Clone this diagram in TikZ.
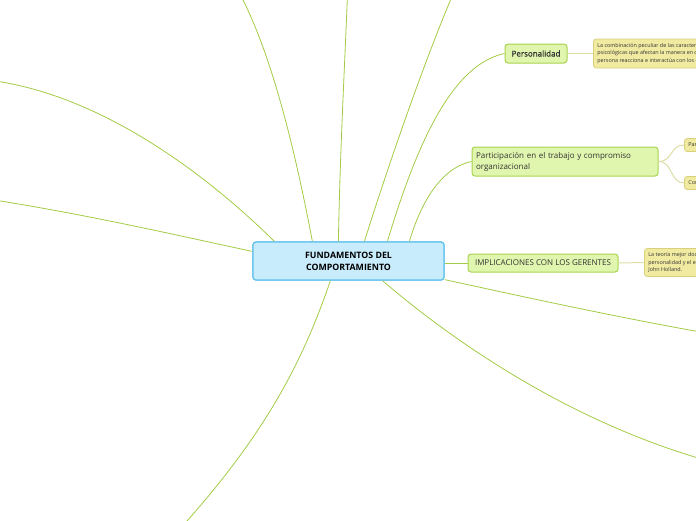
\documentclass[tikz,border=0pt]{standalone}
\usepackage{fontspec}
\setmainfont{Open Sans}
\newfontfamily\semifont{Open Sans}[FakeBold=0.6]
\definecolor{linkgreen}{HTML}{A3CB45}
\definecolor{notelink}{HTML}{DCDDA6}
\definecolor{cfill}{HTML}{C8ECFC}
\definecolor{cdraw}{HTML}{62C2EC}
\definecolor{tfill}{HTML}{E0F5AE}
\definecolor{tdraw}{HTML}{A8D34E}
\definecolor{nfill}{HTML}{F1EBA2}
\definecolor{ndraw}{HTML}{D8D07C}
\definecolor{tdark}{HTML}{333333}
\begin{document}
\begin{tikzpicture}[x=1pt,y=-1pt,
  conn/.style={draw=linkgreen, line width=0.8pt},
  nconn/.style={draw=notelink, line width=1pt},
  central/.style={rectangle, rounded corners=3pt, fill=cfill, draw=cdraw, line width=1.2pt,
    minimum width=191pt, minimum height=38pt, inner sep=0pt, align=center,
    font=\bfseries\fontsize{8.8}{12}\selectfont, text=black},
  topic/.style={rectangle, rounded corners=3pt, fill=tfill, draw=tdraw, line width=1pt,
    inner sep=0pt, font=\fontsize{8}{11}\selectfont, text=tdark},
  note/.style={rectangle, rounded corners=3pt, fill=nfill, draw=ndraw, line width=0.8pt,
    align=left, font=\fontsize{5.4}{7.8}\selectfont, inner xsep=4pt, inner ysep=3pt,
    anchor=west, text=tdark}]
\useasboundingbox (0,0) rectangle (696,520);
\begin{scope}
\clip (0,0) rectangle (696,520);
% nodes
\node[central] (c) at (348.5,261) {FUNDAMENTOS DEL\\COMPORTAMIENTO};
\node[topic, minimum width=62pt, minimum height=19pt, font=\semifont\fontsize{8}{11}\selectfont] (p) at (536,53.5) {Personalidad};
\node[topic, minimum width=186pt, minimum height=29pt, align=left, text width=178pt,
  font=\fontsize{8}{11}\selectfont] (pp) at (565,161.5) {Participación en el trabajo y compromiso\\organizacional};
\node[topic, minimum width=150pt, minimum height=18pt] (i) at (543,263) {IMPLICACIONES CON LOS GERENTES};
\node[note, minimum height=29pt] (n1) at (593,53.5)
  {La combinación peculiar de las características\\psicológicas que afectan la manera en que una\\persona reacciona e interactúa con los demás.};
\node[note, minimum height=28pt] (n2) at (644,262.5)
  {La teoría mejor documentada del ajuste\\personalidad y el empleo fue desarrollada por\\John Holland.};
\node[note, minimum height=13pt, inner ysep=2pt] (pa) at (684,145) {Participación en el trabajo};
\node[note, minimum height=13pt, inner ysep=2pt] (co) at (684,183) {Compromiso organizacional};
% off-canvas ends
\coordinate (oA) at (-12,80);
\coordinate (oB) at (240,-6);
\coordinate (oC) at (347.5,-6);
\coordinate (oD) at (453,-6);
\coordinate (oE) at (-12,199);
\coordinate (oF) at (179,530);
\coordinate (oG) at (712,462);
\coordinate (oH) at (712,334);
% connectors
\draw[conn] ([xshift=22pt]c.north west) .. controls (200,168) and (95,93) .. (oA);
\draw[conn] ([xshift=60pt]c.north west) .. controls (295,150) and (272,55) .. (oB);
\draw[conn] ([xshift=86pt]c.north west) .. controls (340,150) and (345,60) .. (oC);
\draw[conn] ([xshift=112pt]c.north west) .. controls (390,160) and (425,60) .. (oD);
\draw[conn] ([xshift=135pt]c.north west) .. controls (415,150) and (450,65) .. (p.west);
\draw[conn] ([xshift=157pt]c.north west) .. controls (420,205) and (440,168) .. (pp.west);
\draw[conn] ([yshift=-10pt]c.north west) .. controls (180,236) and (90,215) .. (oE);
\draw[conn] ([xshift=78pt]c.south west) .. controls (300,370) and (260,440) .. (oF);
\draw[conn] ([xshift=130pt]c.south west) .. controls (440,330) and (560,420) .. (oG);
\draw[conn] ([yshift=1pt]c.south east) .. controls (520,296) and (620,318) .. (oH);
\draw[conn] (c.east |- i.west) -- (i.west);
\draw[nconn] (p.east) -- (n1.west);
\draw[nconn] (i.east) -- (n2.west);
\draw[nconn] (pp.east) .. controls (673,161.5) and (670,145) .. (pa.west);
\draw[nconn] (pp.east) .. controls (673,161.5) and (670,183) .. (co.west);
% redraw central node on top of connector ends
\node[central] at (c) {FUNDAMENTOS DEL\\COMPORTAMIENTO};
\end{scope}
\end{tikzpicture}
\end{document}
